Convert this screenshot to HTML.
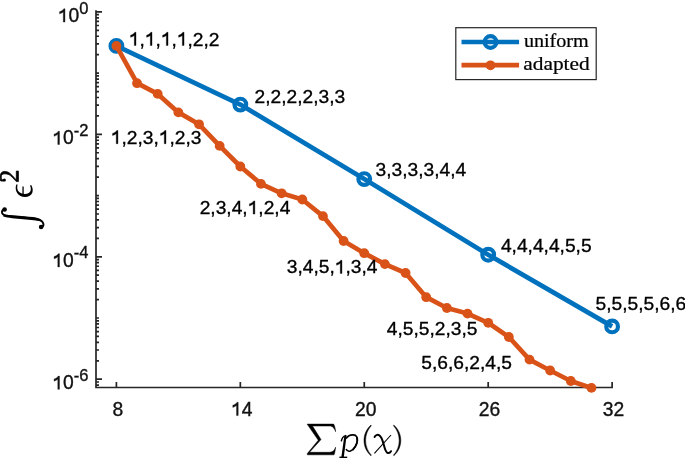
<!DOCTYPE html>
<html><head><meta charset="utf-8"><style>
html,body{margin:0;padding:0;background:#fff;}
body{width:685px;height:458px;overflow:hidden;}
svg{display:block;font-family:"Liberation Sans",sans-serif;will-change:transform;}
</style></head><body>
<svg width="685" height="458" viewBox="0 0 685 458">
<path d="M96.0 11.90h6M96.0 73.12h3M96.0 54.69h3M96.0 43.91h3M96.0 36.26h3M96.0 30.33h3M96.0 25.48h3M96.0 21.38h3M96.0 17.83h3M96.0 14.70h3M96.0 134.34h6M96.0 115.91h3M96.0 105.13h3M96.0 97.48h3M96.0 91.55h3M96.0 86.70h3M96.0 82.60h3M96.0 79.05h3M96.0 75.92h3M96.0 195.56h3M96.0 177.13h3M96.0 166.35h3M96.0 158.70h3M96.0 152.77h3M96.0 147.92h3M96.0 143.82h3M96.0 140.27h3M96.0 137.14h3M96.0 256.78h6M96.0 238.35h3M96.0 227.57h3M96.0 219.92h3M96.0 213.99h3M96.0 209.14h3M96.0 205.04h3M96.0 201.49h3M96.0 198.36h3M96.0 318.00h3M96.0 299.57h3M96.0 288.79h3M96.0 281.14h3M96.0 275.21h3M96.0 270.36h3M96.0 266.26h3M96.0 262.71h3M96.0 259.58h3M96.0 379.22h6M96.0 360.79h3M96.0 350.01h3M96.0 342.36h3M96.0 336.43h3M96.0 331.58h3M96.0 327.48h3M96.0 323.93h3M96.0 320.80h3M96.0 385.15h3M96.0 382.02h3M116.40 387.5v-5.5M240.33 387.5v-5.5M364.26 387.5v-5.5M488.19 387.5v-5.5M612.12 387.5v-5.5" stroke="#262626" stroke-width="1.7" fill="none"/>
<path d="M96.0 11.0V387.5H612.1" stroke="#262626" stroke-width="1.7" fill="none" stroke-linecap="square"/>
<text x="57.76" y="22.05" font-size="19.3" fill="#111" stroke="#111" stroke-width="0.35" xml:space="preserve"> 0</text><g fill="#111" stroke="#111" stroke-width="0.35"><path transform="translate(57.76 22.05) scale(0.00942 -0.00942)" d="M586 0L766 0L766 1409L640 1409C560 1270 400 1160 190 1100L190 870C360 910 490 990 586 1075Z" vector-effect="non-scaling-stroke"/></g>
<text x="79.23" y="13.60" font-size="16.5" fill="#111" stroke="#111" stroke-width="0.35">0</text>
<text x="52.27" y="144.49" font-size="19.3" fill="#111" stroke="#111" stroke-width="0.35" xml:space="preserve"> 0</text><g fill="#111" stroke="#111" stroke-width="0.35"><path transform="translate(52.27 144.49) scale(0.00942 -0.00942)" d="M586 0L766 0L766 1409L640 1409C560 1270 400 1160 190 1100L190 870C360 910 490 990 586 1075Z" vector-effect="non-scaling-stroke"/></g>
<text x="73.73" y="136.04" font-size="16.5" fill="#111" stroke="#111" stroke-width="0.35">-2</text>
<text x="52.27" y="266.93" font-size="19.3" fill="#111" stroke="#111" stroke-width="0.35" xml:space="preserve"> 0</text><g fill="#111" stroke="#111" stroke-width="0.35"><path transform="translate(52.27 266.93) scale(0.00942 -0.00942)" d="M586 0L766 0L766 1409L640 1409C560 1270 400 1160 190 1100L190 870C360 910 490 990 586 1075Z" vector-effect="non-scaling-stroke"/></g>
<text x="73.73" y="258.48" font-size="16.5" fill="#111" stroke="#111" stroke-width="0.35">-4</text>
<text x="52.27" y="389.37" font-size="19.3" fill="#111" stroke="#111" stroke-width="0.35" xml:space="preserve"> 0</text><g fill="#111" stroke="#111" stroke-width="0.35"><path transform="translate(52.27 389.37) scale(0.00942 -0.00942)" d="M586 0L766 0L766 1409L640 1409C560 1270 400 1160 190 1100L190 870C360 910 490 990 586 1075Z" vector-effect="non-scaling-stroke"/></g>
<text x="73.73" y="380.92" font-size="16.5" fill="#111" stroke="#111" stroke-width="0.35">-6</text>
<text x="112.43" y="415.60" font-size="19.3" fill="#111" stroke="#111" stroke-width="0.35" xml:space="preserve">8</text>
<text x="231.00" y="415.60" font-size="19.3" fill="#111" stroke="#111" stroke-width="0.35" xml:space="preserve"> 4</text><g fill="#111" stroke="#111" stroke-width="0.35"><path transform="translate(231.00 415.60) scale(0.00942 -0.00942)" d="M586 0L766 0L766 1409L640 1409C560 1270 400 1160 190 1100L190 870C360 910 490 990 586 1075Z" vector-effect="non-scaling-stroke"/></g>
<text x="354.93" y="415.60" font-size="19.3" fill="#111" stroke="#111" stroke-width="0.35" xml:space="preserve">20</text>
<text x="478.86" y="415.60" font-size="19.3" fill="#111" stroke="#111" stroke-width="0.35" xml:space="preserve">26</text>
<text x="602.79" y="415.60" font-size="19.3" fill="#111" stroke="#111" stroke-width="0.35" xml:space="preserve">32</text>
<polyline points="116.4,45.9 240.33,104.6 364.26,179.1 488.19,254.7 612.12,326.4" stroke="#0072BD" stroke-width="4.7" fill="none" stroke-linejoin="round"/>
<circle cx="116.4" cy="45.9" r="5.85" stroke="#0072BD" stroke-width="4.2" fill="none"/>
<circle cx="240.33" cy="104.6" r="5.85" stroke="#0072BD" stroke-width="4.2" fill="none"/>
<circle cx="364.26" cy="179.1" r="5.85" stroke="#0072BD" stroke-width="4.2" fill="none"/>
<circle cx="488.19" cy="254.7" r="5.85" stroke="#0072BD" stroke-width="4.2" fill="none"/>
<circle cx="612.12" cy="326.4" r="5.85" stroke="#0072BD" stroke-width="4.2" fill="none"/>
<polyline points="116.4,45.9 137.06,83.2 157.71,93.9 178.37,112.4 199.02,124.3 219.68,145.9 240.33,166.5 260.99,183.9 281.64,193.3 302.3,199.5 322.95,216.1 343.61,241.0 364.26,253.2 384.91,264.1 405.57,273.0 426.23,297.2 446.88,308.0 467.53,313.6 488.19,322.8 508.85,337.0 529.5,359.6 550.15,370.5 570.81,381.0 591.47,387.9" stroke="#D95319" stroke-width="4.7" fill="none" stroke-linejoin="round"/>
<circle cx="116.4" cy="45.9" r="4.9" fill="#D95319"/>
<circle cx="137.06" cy="83.2" r="4.9" fill="#D95319"/>
<circle cx="157.71" cy="93.9" r="4.9" fill="#D95319"/>
<circle cx="178.37" cy="112.4" r="4.9" fill="#D95319"/>
<circle cx="199.02" cy="124.3" r="4.9" fill="#D95319"/>
<circle cx="219.68" cy="145.9" r="4.9" fill="#D95319"/>
<circle cx="240.33" cy="166.5" r="4.9" fill="#D95319"/>
<circle cx="260.99" cy="183.9" r="4.9" fill="#D95319"/>
<circle cx="281.64" cy="193.3" r="4.9" fill="#D95319"/>
<circle cx="302.3" cy="199.5" r="4.9" fill="#D95319"/>
<circle cx="322.95" cy="216.1" r="4.9" fill="#D95319"/>
<circle cx="343.61" cy="241.0" r="4.9" fill="#D95319"/>
<circle cx="364.26" cy="253.2" r="4.9" fill="#D95319"/>
<circle cx="384.91" cy="264.1" r="4.9" fill="#D95319"/>
<circle cx="405.57" cy="273.0" r="4.9" fill="#D95319"/>
<circle cx="426.23" cy="297.2" r="4.9" fill="#D95319"/>
<circle cx="446.88" cy="308.0" r="4.9" fill="#D95319"/>
<circle cx="467.53" cy="313.6" r="4.9" fill="#D95319"/>
<circle cx="488.19" cy="322.8" r="4.9" fill="#D95319"/>
<circle cx="508.85" cy="337.0" r="4.9" fill="#D95319"/>
<circle cx="529.5" cy="359.6" r="4.9" fill="#D95319"/>
<circle cx="550.15" cy="370.5" r="4.9" fill="#D95319"/>
<circle cx="570.81" cy="381.0" r="4.9" fill="#D95319"/>
<circle cx="591.47" cy="387.9" r="4.9" fill="#D95319"/>
<text x="128.82" y="45.50" font-size="19.2" fill="#000" stroke="#000" stroke-width="0.35" xml:space="preserve"> , , , ,2,2</text><g fill="#000" stroke="#000" stroke-width="0.35"><path transform="translate(128.82 45.50) scale(0.00937 -0.00937)" d="M586 0L766 0L766 1409L640 1409C560 1270 400 1160 190 1100L190 870C360 910 490 990 586 1075Z" vector-effect="non-scaling-stroke"/><path transform="translate(144.83 45.50) scale(0.00937 -0.00937)" d="M586 0L766 0L766 1409L640 1409C560 1270 400 1160 190 1100L190 870C360 910 490 990 586 1075Z" vector-effect="non-scaling-stroke"/><path transform="translate(160.85 45.50) scale(0.00937 -0.00937)" d="M586 0L766 0L766 1409L640 1409C560 1270 400 1160 190 1100L190 870C360 910 490 990 586 1075Z" vector-effect="non-scaling-stroke"/><path transform="translate(176.86 45.50) scale(0.00937 -0.00937)" d="M586 0L766 0L766 1409L640 1409C560 1270 400 1160 190 1100L190 870C360 910 490 990 586 1075Z" vector-effect="non-scaling-stroke"/></g>
<text x="254.57" y="103.40" font-size="19.2" fill="#000" stroke="#000" stroke-width="0.35" xml:space="preserve">2,2,2,2,3,3</text>
<text x="375.59" y="176.10" font-size="19.2" fill="#000" stroke="#000" stroke-width="0.35" xml:space="preserve">3,3,3,3,4,4</text>
<text x="500.91" y="252.20" font-size="19.2" fill="#000" stroke="#000" stroke-width="0.35" xml:space="preserve">4,4,4,4,5,5</text>
<text x="595.53" y="310.40" font-size="19.2" fill="#000" stroke="#000" stroke-width="0.35" xml:space="preserve">5,5,5,5,6,6</text>
<text x="110.76" y="143.70" font-size="19.2" fill="#000" stroke="#000" stroke-width="0.35" xml:space="preserve"> ,2,3, ,2,3</text><g fill="#000" stroke="#000" stroke-width="0.35"><path transform="translate(110.76 143.70) scale(0.00937 -0.00937)" d="M586 0L766 0L766 1409L640 1409C560 1270 400 1160 190 1100L190 870C360 910 490 990 586 1075Z" vector-effect="non-scaling-stroke"/><path transform="translate(158.80 143.70) scale(0.00937 -0.00937)" d="M586 0L766 0L766 1409L640 1409C560 1270 400 1160 190 1100L190 870C360 910 490 990 586 1075Z" vector-effect="non-scaling-stroke"/></g>
<text x="199.63" y="214.10" font-size="19.2" fill="#000" stroke="#000" stroke-width="0.35" xml:space="preserve">2,3,4, ,2,4</text><g fill="#000" stroke="#000" stroke-width="0.35"><path transform="translate(247.67 214.10) scale(0.00937 -0.00937)" d="M586 0L766 0L766 1409L640 1409C560 1270 400 1160 190 1100L190 870C360 910 490 990 586 1075Z" vector-effect="non-scaling-stroke"/></g>
<text x="286.74" y="273.40" font-size="19.2" fill="#000" stroke="#000" stroke-width="0.35" xml:space="preserve">3,4,5, ,3,4</text><g fill="#000" stroke="#000" stroke-width="0.35"><path transform="translate(334.78 273.40) scale(0.00937 -0.00937)" d="M586 0L766 0L766 1409L640 1409C560 1270 400 1160 190 1100L190 870C360 910 490 990 586 1075Z" vector-effect="non-scaling-stroke"/></g>
<text x="386.86" y="335.10" font-size="19.2" fill="#000" stroke="#000" stroke-width="0.35" xml:space="preserve">4,5,5,2,3,5</text>
<text x="421.35" y="369.00" font-size="19.2" fill="#000" stroke="#000" stroke-width="0.35" xml:space="preserve">5,6,6,2,4,5</text>
<rect x="455.8" y="27.7" width="140.4" height="51.9" fill="#fff" stroke="#262626" stroke-width="1.2"/><path d="M461.5 42H519.1" stroke="#0072BD" stroke-width="4.7"/><circle cx="490.5" cy="42" r="5.85" stroke="#0072BD" stroke-width="4.2" fill="none"/><path d="M461.5 65.2H519.1" stroke="#D95319" stroke-width="4.7"/><circle cx="490.5" cy="65.3" r="4.9" fill="#D95319"/><text transform="translate(523.93 46.6) scale(1.0869 1)" font-family="Liberation Serif" font-size="18.5" fill="#000" stroke="#000" stroke-width="0.22">uniform</text><text transform="translate(523.25 69.8) scale(1.1563 1)" font-family="Liberation Serif" font-size="18.5" fill="#000" stroke="#000" stroke-width="0.22">adapted</text>
<path d="M374.4 453.4L391.0 435.0" stroke="#000" stroke-width="1.1" fill="none"/><path d="M374.6 437.0C375.2 435.2 377.5 434.3 379.3 435.3C381.5 436.6 382.5 440 383.6 444C384.6 448 385.5 452.5 387.8 453.0C389.3 453.3 390.4 452.4 391.0 451.2" stroke="#000" stroke-width="2.0" fill="none" stroke-linecap="round"/>
<g fill="#000"><path d="M344.3 436.0L346.6 435.4L343.8 457.2L341.3 457.6Z"/><path d="M339.4 456.6L347.2 456.6L347.2 458.5L339.4 458.5Z"/></g><path d="M341.4 440.8C341.9 438.2 343.4 436.2 345.6 435.6" stroke="#000" stroke-width="1.5" fill="none" stroke-linecap="round"/><path d="M346.0 438.6C347.6 436.2 350.4 434.7 353.4 434.9C356.4 435.1 357.7 437.5 357.4 440.6C357.0 444.6 354.3 449.6 350.5 450.9C348.5 451.6 346.8 450.7 346.1 449.0" stroke="#000" stroke-width="1.6" fill="none"/><path d="M356.8 437.5C357.6 440.5 356.6 445.5 353.0 449.6" stroke="#000" stroke-width="1.6" fill="none" stroke-linecap="round"/>
<path d="M307.1 424.1L333.6 424.1C334.6 425.5 335.3 428.5 335.6 431.7C334.9 429.2 333.4 426.6 330.5 426.0L312.5 426.0L321.0 439.6L309.5 452.3L330.0 452.3C333.0 452.0 334.8 449.8 335.6 447.2C335.3 450.5 334.6 453.2 334.1 454.8L307.3 454.8L307.3 453.6L318.3 440.2ZM371.0 425.1C366.5 429 364.0 434.5 364.0 440.4C364.0 446.3 366.5 451.8 371.0 455.7L371.3 455.1C367.9 451.4 365.6 446.3 365.6 440.4C365.6 434.5 367.9 429.4 371.3 425.7ZM393.8 425.1C398.3 429 400.8 434.5 400.8 440.4C400.8 446.3 398.3 451.8 393.8 455.7L393.5 455.1C396.9 451.4 399.2 446.3 399.2 440.4C399.2 434.5 396.9 429.4 393.5 425.7Z" fill="#000" stroke="#000" stroke-width="0.5" stroke-linejoin="round"/>
<path d="M18.400000000000002 171.1V181.6H16.41615044247788L14.135398230088498 179.22119366626063Q12.016592920353984 176.93191230207063 10.707522123893806 175.85761266747866Q9.39845132743363 174.7833130328867 8.00840707964602 174.31650426309375Q6.618362831858409 173.84969549330083 4.823451327433631 173.84969549330083Q3.069026548672568 173.84969549330083 2.151327433628321 174.60426309378806Q1.2336283185840742 175.35883069427527 1.2336283185840742 177.07259439707673Q1.2336283185840742 177.75042630937878 1.4293141592920389 178.46662606577343Q1.6250000000000036 179.18282582216807 1.948893805309737 179.73276492082823L4.1621681415929235 180.18038976857488V181.02448233861142H0.6803097345132763Q0.10000000000000142 178.69683313032886 0.10000000000000142 177.07259439707673Q0.10000000000000142 174.25895249695492 1.3348451327433644 172.84573690621193Q2.5696902654867273 171.43252131546893 4.823451327433631 171.43252131546893Q6.334955752212391 171.43252131546893 7.677765486725666 171.9888550548112Q9.020575221238941 172.54518879415346 10.349889380530975 173.69622411693058Q11.67920353982301 174.84725943970767 14.067920353982302 177.50742996345917Q15.093584070796462 178.6456760048721 16.321681415929206 179.9246041412911V171.1Z" fill="#000" stroke="#000" stroke-width="0.8" stroke-linejoin="round"/>
<circle cx="4.4" cy="180.0" r="1.5" fill="#000"/>
<path d="M16.3 184.5C15.5 186.5 15.4 189.5 16.6 192.0C18.2 195.2 21.5 197.0 25.0 197.0C28.5 197.0 31.3 195.3 32.4 192.5C33.1 190.5 32.7 187.5 31.2 185.1L30.0 185.6C30.9 187.5 31.1 189.5 30.5 191.0C29.6 193.0 27.5 194.0 25.0 194.0C21.8 194.0 19.2 192.8 17.9 190.5C17.0 188.8 17.1 186.5 17.6 184.6Z" fill="#000"/><path d="M23.05 186.4V193.9" stroke="#000" stroke-width="1.3"/>
<g fill="none" stroke="#000" stroke-linecap="round"><path d="M4.5 209.5C2.6 209.6 1.7 211.3 2.1 213C2.7 215 4.8 215.6 8.5 216L23 217.4C31 218.1 37 218.6 40.6 220.3C43.4 221.8 43.9 224.7 43.1 226.1C42.6 227.1 41.7 227.4 41 227.1" stroke-width="2.0"/></g><path d="M4 214.5C10 215.2 17 215.7 24 216.2C31 216.7 36 217.1 40.2 218.9L41.6 221.4C37 220.4 31 219.9 23 219.2C16 218.6 8 217.9 3.2 216.5Z" fill="#000"/><circle cx="4.6" cy="209.5" r="2.3" fill="#000"/><circle cx="41.1" cy="227.0" r="2.3" fill="#000"/>
</svg>
</body></html>
